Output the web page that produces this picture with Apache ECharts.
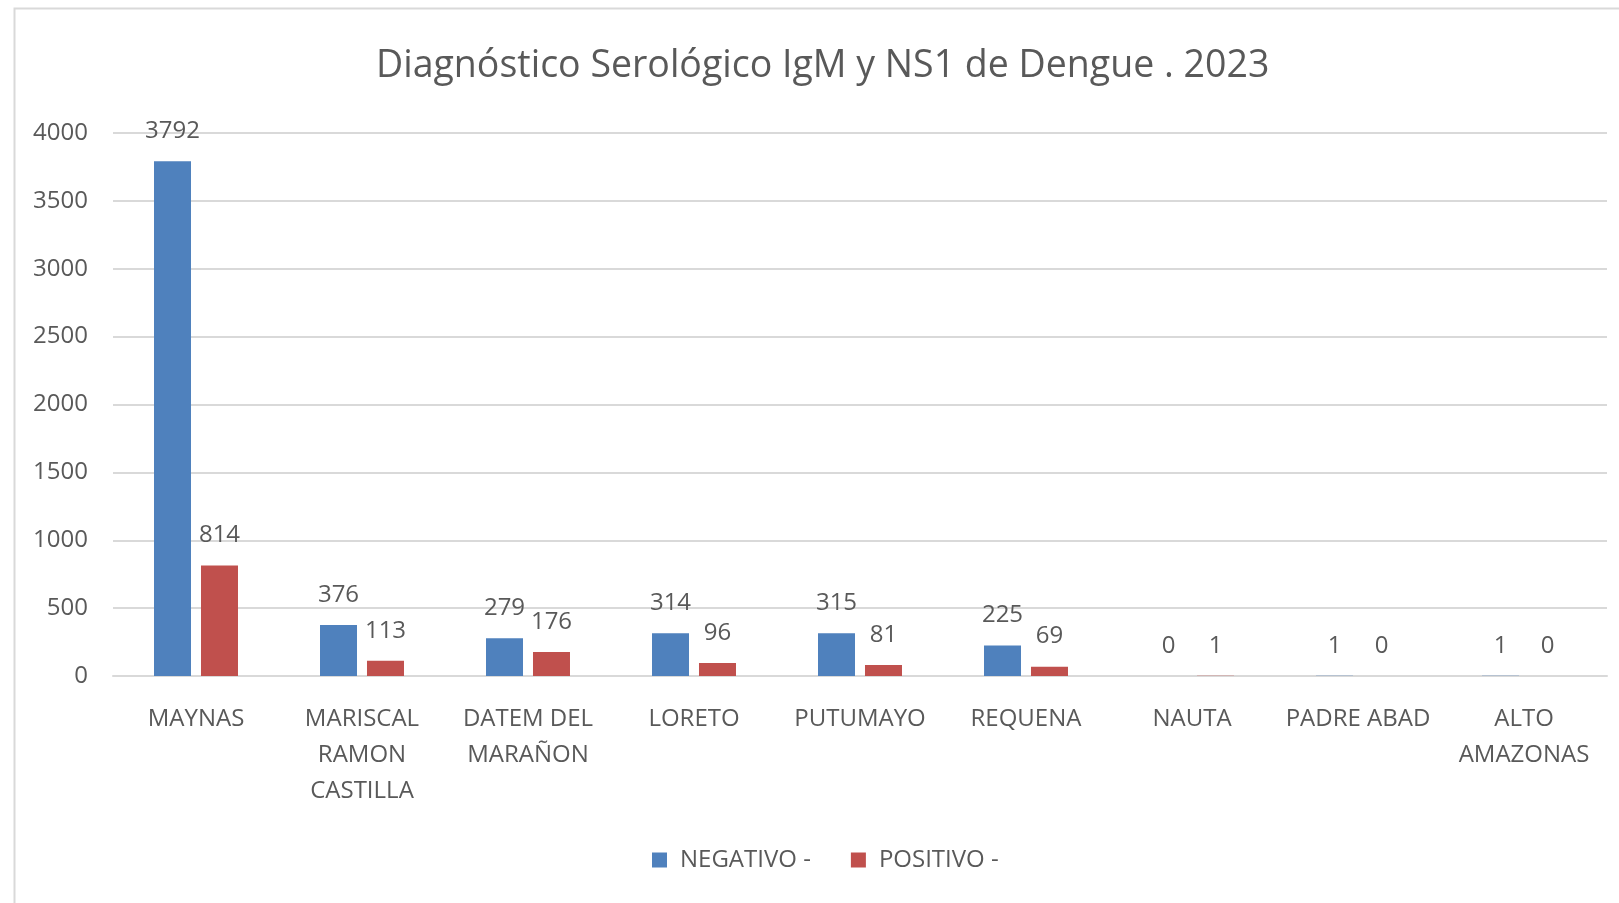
<!DOCTYPE html>
<html>
<head>
<meta charset="utf-8">
<title>Diagnóstico Serológico IgM y NS1 de Dengue . 2023</title>
<script src="https://cdn.jsdelivr.net/npm/echarts@6/dist/echarts.min.js"></script>
<style>
  html, body { margin: 0; padding: 0; background: #fff; }
  #chart { width: 1619px; height: 903px; }
</style>
</head>
<body>
<div id="chart"></div>
<script>
// provincias
var categories = ['MAYNAS', 'MARISCAL\nRAMON\nCASTILLA', 'DATEM DEL\nMARAÑON', 'LORETO', 'PUTUMAYO',
  'REQUENA', 'NAUTA', 'PADRE ABAD', 'ALTO\nAMAZONAS'];
var negativo = [3792, 376, 279, 314, 315, 225, 0, 1, 1];
var positivo = [814, 113, 176, 96, 81, 69, 1, 0, 0];
var yTicks = { min: 0, max: 4000, interval: 500 };

var txt = '#595959';
var font = '"Open Sans", "Noto Sans", sans-serif';

var chart = echarts.init(document.getElementById('chart'));
chart.setOption({
  textStyle: { fontFamily: font },
  title: {
    text: 'Diagnóstico Serológico IgM y NS1 de Dengue . 2023',
    left: 371, top: 42,
    textStyle: { color: txt, fontSize: 37.5, fontWeight: 'normal', fontFamily: font }
  },
  legend: {
    bottom: 26, left: 647,
    icon: 'rect', itemWidth: 15, itemHeight: 15, itemGap: 40,
    textStyle: { color: txt, fontSize: 24, fontFamily: font, padding: [0, 0, 0, 8] }
  },
  graphic: [{
    type: 'rect', left: 12, top: 6, silent: true,
    shape: { width: 1700, height: 1000 },
    style: { fill: 'none', stroke: '#d9d9d9', lineWidth: 2 }
  }],
  grid: { left: 113, right: 12, top: 133, bottom: 227 },
  xAxis: {
    type: 'category',
    data: categories,
    axisLine: { lineStyle: { color: '#d9d9d9', width: 2 } },
    axisTick: { show: false },
    axisLabel: { color: txt, fontSize: 24, margin: 25, lineHeight: 36, interval: 0, fontFamily: font }
  },
  yAxis: {
    type: 'value',
    min: yTicks.min, max: yTicks.max, interval: yTicks.interval,
    axisLine: { show: false },
    axisTick: { show: false },
    splitLine: { lineStyle: { color: '#d9d9d9', width: 2 } },
    axisLabel: { color: txt, fontSize: 24, margin: 25, fontFamily: font, formatter: function (v) { return String(v); } }
  },
  series: [{
    name: 'NEGATIVO -', type: 'bar', data: negativo,
    barWidth: 37, barGap: '27%',
    itemStyle: { color: '#4f81bd' },
    label: { show: true, position: 'top', distance: 18, color: txt, fontSize: 24, fontFamily: font }
  }, {
    name: 'POSITIVO -', type: 'bar', data: positivo,
    barWidth: 37,
    itemStyle: { color: '#c0504d' },
    label: { show: true, position: 'top', distance: 18, color: txt, fontSize: 24, fontFamily: font }
  }]
});
</script>
</body>
</html>
